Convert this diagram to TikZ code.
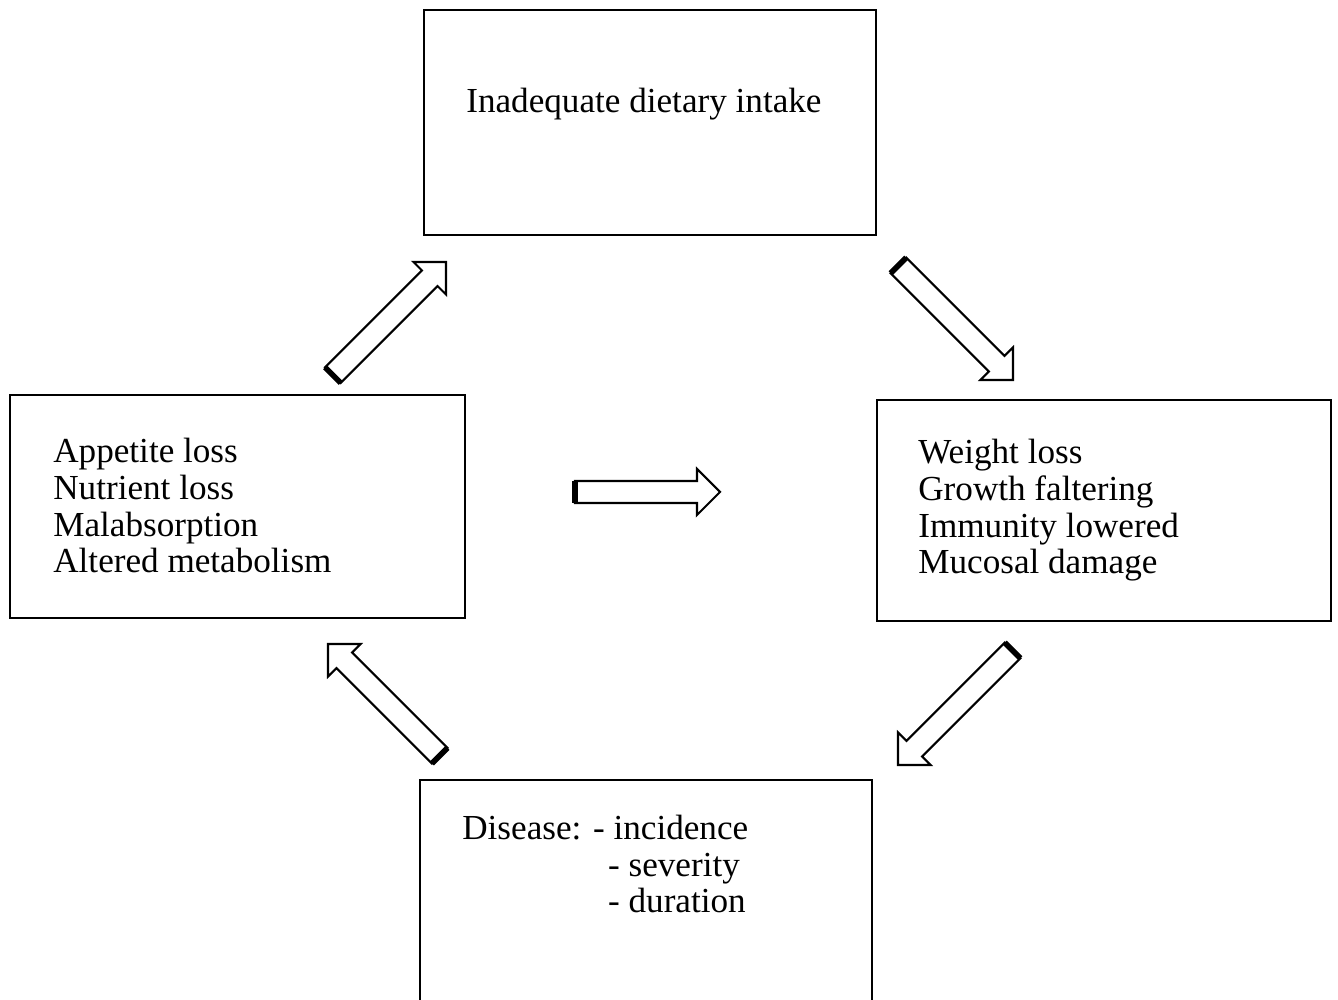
\documentclass[tikz,border=0pt]{standalone}
\usepackage{fontspec}
\setmainfont{Liberation Serif}
\tikzset{
	cyclebox/.style = {
		rectangle,
		draw=black,
		line width=1.3pt,
		inner sep=0pt
	},
	boxtext/.style = {
		align=left,
		inner sep=0pt,
		anchor=base west,
		font=\fontsize{20}{21}\selectfont
	},
	hollow/.style = {
		draw=black,
		fill=white,
		line width=1.2pt,
		line join=miter
	},
	tailbar/.style = {
		draw=black,
		line width=3.2pt
	},
}
% hollow block arrow: tip x, tip y, angle, length
\newcommand{\blockarrow}[4]{%
	\begin{scope}[shift={(#1,#2)}, rotate=#3]
		\draw[hollow] (0,0) -- (-23,23) -- (-23,11) -- (-#4,11) -- (-#4,-11) -- (-23,-11) -- (-23,-23) -- cycle;
		\draw[tailbar] (-#4,11) -- (-#4,-11);
	\end{scope}
}
\begin{document}
\begin{tikzpicture}[x=0.02cm, y=0.02cm]
\clip (0,0) rectangle (1338,1000);
\fill[white] (0,0) rectangle (1338,1000);

\node [cyclebox, minimum width=9.04cm, minimum height=4.5cm] (intake) at (650,877.5) {};
\node [cyclebox, minimum width=9.1cm, minimum height=4.46cm] (losses) at (237.5,493.5) {};
\node [cyclebox, minimum width=9.08cm, minimum height=4.42cm] (growth) at (1104,489.5) {};
\node [cyclebox, minimum width=9.04cm, minimum height=5.2cm] (disease) at (646,90) {};

% base anchor = last line
\node [boxtext] (intaketxt) at (466,887) {Inadequate dietary intake};
\node [boxtext] (lossestxt) at (53,427) {Appetite loss\\Nutrient loss\\Malabsorption\\Altered metabolism};
\node [boxtext] (growthtxt) at (918,426) {Weight loss\\Growth faltering\\Immunity lowered\\Mucosal damage};
\node [boxtext] (diseasetxt) at (462,87) {Disease: - incidence\\\hspace*{83pt}- severity\\\hspace*{83pt}- duration};

\blockarrow{446}{738}{45}{160}
\blockarrow{1013}{620}{-45}{162}
\blockarrow{720}{508}{0}{145}
\blockarrow{898}{235}{225}{162}
\blockarrow{328}{356}{135}{158}
\end{tikzpicture}
\end{document}
